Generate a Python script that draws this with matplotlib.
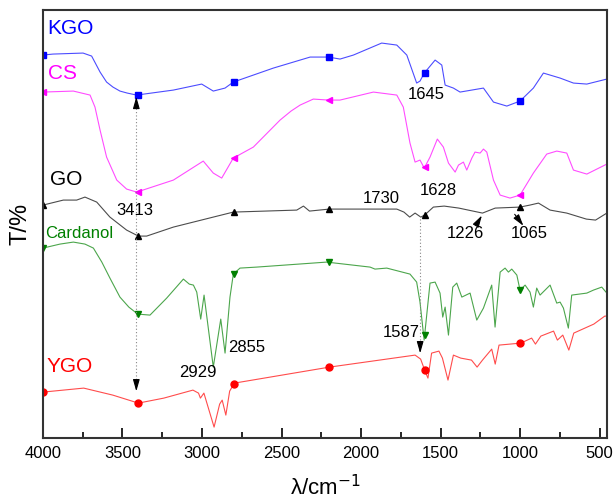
import numpy as np
import matplotlib
matplotlib.use("Agg")
import matplotlib.pyplot as plt

plt.rcParams['font.family'] = ['Liberation Sans', 'DejaVu Sans']

# spectra: wavenumber (cm-1) and transmittance (offset, arb. units)
kgo_wn = [4000, 3937, 3748, 3694, 3641, 3600, 3560, 3516, 3470, 3411, 3180, 3002, 2929, 2855, 2803, 2551,
          2383, 2320, 2205, 2132, 2048, 1870, 1775, 1712, 1650, 1629, 1602, 1534, 1492, 1471, 1419, 1377,
          1230, 1167, 1083, 1000, 916, 853, 748, 664, 580, 454]
kgo_t = [383, 384, 385, 382, 366, 356, 351, 347, 345, 343, 348, 354, 347, 350, 356, 370,
         378, 381, 381, 379, 383, 395, 393, 383, 355, 357, 365, 378, 373, 353, 350, 346,
         350, 336, 332, 337, 350, 365, 360, 355, 354, 359]

cs_wn = [4000, 3809, 3704, 3673, 3641, 3600, 3536, 3474, 3410, 3180, 2992, 2929, 2876, 2803, 2677, 2509,
         2440, 2383, 2300, 2205, 2132, 1922, 1775, 1734, 1692, 1660, 1629, 1602, 1566, 1520, 1482, 1450,
         1408, 1387, 1356, 1335, 1303, 1283, 1251, 1230, 1209, 1167, 1125, 1063, 1000, 916, 832, 769,
         706, 664, 580, 454]
cs_t = [346, 347, 343, 331, 308, 281, 258, 249, 246, 258, 277, 265, 260, 280, 291, 318,
        327, 333, 339, 338, 338, 346, 343, 331, 295, 276, 278, 270, 281, 299, 291, 275,
        266, 273, 276, 268, 280, 286, 285, 289, 286, 258, 243, 240, 243, 265, 284, 287,
        285, 268, 264, 274]

go_wn = [4000, 3872, 3788, 3736, 3662, 3579, 3474, 3400, 3348, 3180, 2929, 2803, 2404, 2362, 2324, 2200,
         1900, 1775, 1730, 1694, 1660, 1624, 1600, 1545, 1477, 1385, 1236, 1156, 1000, 938, 884, 811,
         706, 583, 525, 454]
go_t = [233, 238, 238, 241, 236, 221, 208, 202, 202, 211, 221, 226, 228, 232, 227, 229,
        229, 229, 226, 221, 225, 221, 223, 231, 232, 230, 225, 230, 231, 233, 235, 228,
        225, 219, 218, 225]

card_wn = [4000, 3893, 3809, 3736, 3683, 3630, 3579, 3516, 3460, 3404, 3327, 3222, 3117, 3080, 3054, 3033,
           3008, 2987, 2929, 2882, 2855, 2824, 2803, 2761, 2656, 2216, 1943, 1912, 1838, 1692, 1650, 1629,
           1603, 1566, 1534, 1503, 1486, 1471, 1450, 1423, 1398, 1366, 1314, 1272, 1230, 1178, 1157, 1125,
           1094, 1073, 1052, 1020, 1000, 968, 937, 916, 895, 874, 811, 769, 748, 727, 696, 675, 580, 538,
           486, 454]
card_t = [190, 194, 196, 194, 190, 176, 160, 141, 131, 124, 123, 140, 159, 154, 153, 146,
          119, 143, 71, 119, 85, 141, 164, 170, 171, 176, 171, 169, 170, 164, 156, 136,
          98, 155, 156, 145, 121, 131, 103, 151, 155, 141, 145, 118, 130, 153, 111, 166,
          170, 166, 169, 163, 148, 153, 146, 131, 150, 143, 153, 135, 136, 130, 110, 143, 145, 148,
          151, 145]

ygo_wn = [4000, 3744, 3561, 3400, 3240, 3057, 3022, 3010, 2988, 2924, 2889, 2873, 2850, 2826, 2796, 2198,
          1660, 1625, 1595, 1579, 1556, 1510, 1488, 1453, 1419, 1373, 1305, 1270, 1236, 1178, 1156, 1132,
          995, 927, 903, 869, 789, 765, 731, 693, 662, 536, 467, 454]
ygo_t = [46, 50, 43, 35, 40, 48, 45, 40, 45, 11, 34, 38, 23, 47, 55, 71,
         83, 79, 66, 60, 85, 87, 80, 58, 83, 80, 78, 71, 78, 89, 74, 93,
         95, 100, 94, 102, 107, 98, 103, 88, 105, 114, 122, 122]

mark_wn = [4000, 3400, 2800, 2200, 1600, 1000]

series = [
    ("KGO", kgo_wn, kgo_t, "#0000ff", "s"),
    ("CS", cs_wn, cs_t, "#ff00ff", "<"),
    ("GO", go_wn, go_t, "#000000", "^"),
    ("Cardanol", card_wn, card_t, "#008000", "v"),
    ("YGO", ygo_wn, ygo_t, "#ff0000", "o"),
]

fig = plt.figure(figsize=(6.14, 5.03), dpi=100)
ax = fig.add_axes([0.070, 0.129, 0.9186, 0.851])

for name, wn, t, c, m in series:
    ax.plot(wn, t, color=c, lw=0.8, alpha=0.7)
    mw = np.array(mark_wn)
    mt = np.interp(mw, wn[::-1], t[::-1])
    ax.plot(mw, mt, ls="none", marker=m, color=c, ms=5, mec=c)

# curve names
ax.text(3975, 410, "KGO", color="#0000ff", fontsize=15, va="center")
ax.text(3968, 365, "CS", color="#ff00ff", fontsize=15, va="center")
ax.text(3958, 259, "GO", color="black", fontsize=15, va="center")
ax.text(3988, 205, "Cardanol", color="#008000", fontsize=12, va="center")
ax.text(3975, 72, "YGO", color="#ff0000", fontsize=15, va="center")

# peak labels
peaks = [("3413", 3420, 228), ("1645", 1587, 344), ("1730", 1870, 240), ("1628", 1515, 248),
         ("1226", 1346, 205), ("1065", 940, 205), ("2929", 3023, 66), ("2855", 2719, 91),
         ("1587", 1748, 106)]
for s, x, y in peaks:
    ax.text(x, y, s, fontsize=12, ha="center", va="center")

# dotted guide lines with arrow heads
ax.plot([3413, 3413], [52, 336], ls=(0, (1, 2)), color="#888888", lw=0.8)
ax.plot([1628, 1628], [88, 222], ls=(0, (1, 2)), color="#888888", lw=0.8)
head = dict(arrowstyle="-|>,head_length=0.7,head_width=0.2", color="black", lw=0.8)
ax.annotate("", xy=(3413, 344), xytext=(3413, 333), arrowprops=head)
ax.annotate("", xy=(3413, 44), xytext=(3413, 56), arrowprops=head)
ax.annotate("", xy=(1628, 82), xytext=(1628, 94), arrowprops=head)
ax.annotate("", xy=(1231, 225), xytext=(1272, 214), arrowprops=head)
ax.annotate("", xy=(968, 210), xytext=(1044, 226), arrowprops=head)

ax.set_xlim(4000, 453)
ax.set_ylim(0, 428)
ax.set_xticks([4000, 3500, 3000, 2500, 2000, 1500, 1000, 500])
ax.set_xticks(np.arange(750, 4000, 500), minor=True)
ax.set_yticks([])
ax.tick_params(axis="x", direction="in", length=7, width=1.2, labelsize=12, pad=6)
ax.tick_params(axis="x", which="minor", direction="in", length=4, width=1.2)
for sp in ax.spines.values():
    sp.set_linewidth(1.5)
    sp.set_color("#333333")

ax.set_ylabel("T/%", fontsize=17, labelpad=8)
ax.set_xlabel("λ/cm$^{-1}$", fontsize=16, labelpad=10)

fig.savefig("out.png", dpi=100)
